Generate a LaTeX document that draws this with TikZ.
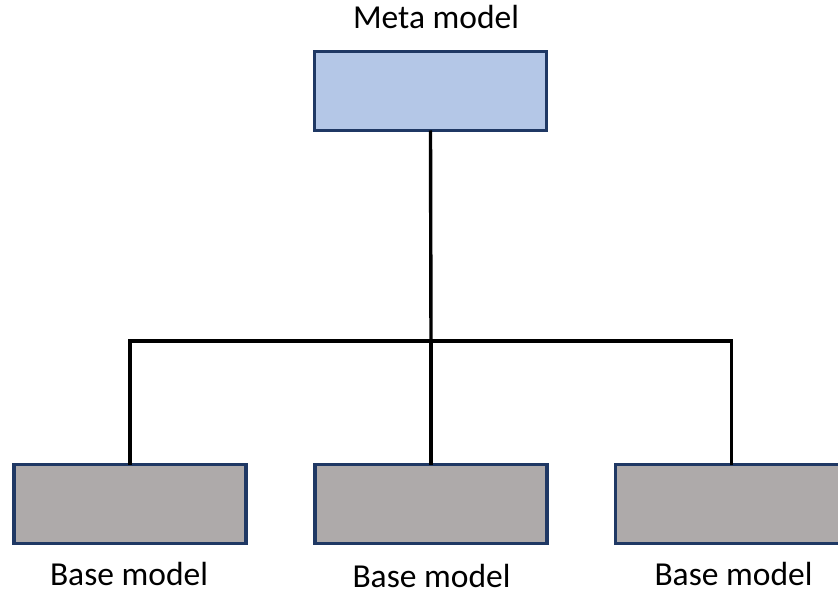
\documentclass[tikz,border=0pt]{standalone}
\usepackage{fontspec}
\setmainfont{Carlito}
\definecolor{metafill}{HTML}{B4C7E7}
\definecolor{basefill}{HTML}{AEAAAA}
\definecolor{boxline}{HTML}{1F3864}
\begin{document}
\begin{tikzpicture}[x=1pt,y=-1pt,
  modelbox/.style={draw=boxline, line width=3.2pt, minimum width=232pt,
    minimum height=79pt, inner sep=0pt, outer sep=0pt},
  metabox/.style={modelbox, fill=metafill},
  basebox/.style={modelbox, fill=basefill},
  caption/.style={anchor=base, inner sep=0pt, font=\fontsize{33.5}{40}\selectfont},
  link/.style={draw=black, line width=3.4pt}]
\useasboundingbox (0,0) rectangle (838,591);
\clip (0,0) rectangle (838,591);
% boxes
\node[metabox] (meta) at (430.5,91) {};
\node[basebox] (b1) at (130,504) {};
\node[basebox] (b2) at (431,504) {};
\node[basebox] (b3) at (731.5,504) {};
% captions
\node[caption] (tmeta) at (436,29) {Meta model};
\node[caption] (t1) at (129,585) {Base model};
\node[caption] (t2) at (431.5,587) {Base model};
\node[caption] (t3) at (733.5,585) {Base model};
% tree connectors
\coordinate (j) at (431,341);
\path[link] (meta.south) -- (j);
\path[link] (b1.north) |- (j) -| (b3.north);
\path[link] (j) -- (b2.north);
\end{tikzpicture}
\end{document}
